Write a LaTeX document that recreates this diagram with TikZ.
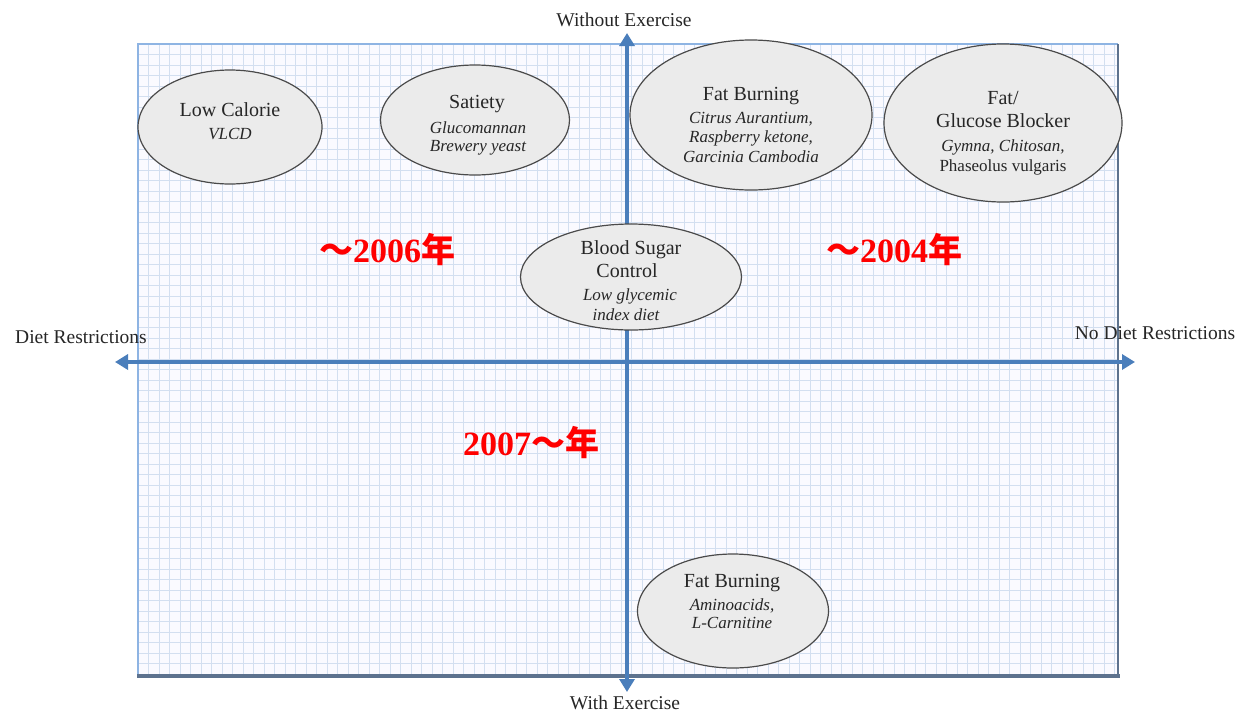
\documentclass[tikz,border=0pt]{standalone}
\usepackage{fontspec}
\setmainfont{Liberation Serif}
\newfontfamily\cjk{Noto Sans CJK SC}
\usetikzlibrary{shapes.geometric,arrows.meta}
\definecolor{gridblue}{HTML}{D3DFF0}
\definecolor{axisblue}{HTML}{4A7EBB}
\definecolor{frametop}{HTML}{8EB4E3}
\definecolor{framedark}{HTML}{5D728E}
\definecolor{ellfill}{HTML}{EBEBEB}
\definecolor{ellline}{HTML}{4A4A4A}
\tikzset{
  bubble/.style={ellipse, draw=ellline, line width=1.2pt, fill=ellfill, inner sep=0pt},
  maintxt/.style={anchor=base, font=\fontsize{20}{22}\selectfont, text=black!85, inner sep=0pt},
  subtxt/.style={anchor=base, font=\fontsize{17}{19}\selectfont\itshape, text=black!85, inner sep=0pt},
  subup/.style={anchor=base, font=\fontsize{17}{19}\selectfont, text=black!85, inner sep=0pt},
  axlabel/.style={anchor=base, font=\fontsize{19.5}{21}\selectfont, text=black!85, inner sep=0pt},
  yearlbl/.style={anchor=base, font=\fontsize{34}{36}\selectfont\bfseries, text=red, inner sep=0pt},
  axisarrow/.style={draw=axisblue, line width=4.5pt, -{Triangle[length=13pt,width=15pt]}}
}
\begin{document}
\begin{tikzpicture}[x=1pt,y=-1pt]
\useasboundingbox (0,0) rectangle (1249,713);
\fill[white] (0,0) rectangle (1249,713);
% grid
\fill[blue!2] (138,44) rectangle (1118,676);
\begin{scope}
\clip (138,44) rectangle (1118,676);
\foreach \i in {0,...,94} {
  \draw[gridblue, line width=1pt] ({138+10.5*\i},44) -- ({138+10.5*\i},676);
}
\foreach \j in {0,...,61} {
  \draw[gridblue, line width=1pt] (138,{44+10.5*\j}) -- (1118,{44+10.5*\j});
}
\end{scope}
\draw[frametop, line width=2pt] (138,676) -- (138,44) -- (1118,44);
\draw[framedark, line width=2pt] (1118,44) -- (1118,676);
\draw[framedark, line width=3.5pt] (137,676) -- (1119.5,676);
% axes
\coordinate (ctr) at (627,362);
\coordinate (atop) at (627,33);
\coordinate (abot) at (627,692);
\coordinate (aleft) at (115,362);
\coordinate (aright) at (1135,362);
\draw[axisarrow] (ctr) -- (atop);
\draw[axisarrow] (ctr) -- (abot);
\draw[axisarrow] (ctr) -- (aleft);
\draw[axisarrow] (ctr) -- (aright);
% axis labels
\node[axlabel] (lwo) at (624,26) {Without Exercise};
\node[axlabel] (lw) at (625,709) {With Exercise};
\node[axlabel] (ldr) at (81,343) {Diet Restrictions};
\node[axlabel] (lndr) at (1155,339) {No Diet Restrictions};
% ellipses
\node[bubble, minimum width=184pt, minimum height=114pt] (lowcal) at (230,127) {};
\node[bubble, minimum width=189pt, minimum height=110pt] (satiety) at (475,120) {};
\node[bubble, minimum width=242pt, minimum height=150pt] (fatburn) at (751,115) {};
\node[bubble, minimum width=238pt, minimum height=158pt] (blocker) at (1003,123) {};
\node[bubble, minimum width=221pt, minimum height=106pt] (blood) at (631,277) {};
\node[bubble, minimum width=191pt, minimum height=114pt] (fatburn2) at (733,611) {};
% texts
\node[maintxt] (t1a) at (230,116) {Low Calorie};
\node[subtxt] (t1b) at (230,139) {VLCD};
\node[maintxt] (t2a) at (477,108) {Satiety};
\node[subtxt] (t2b) at (478,133) {Glucomannan};
\node[subtxt] (t2c) at (478,151) {Brewery yeast};
\node[maintxt] (t3a) at (751,100) {Fat Burning};
\node[subtxt] (t3b) at (751,123) {Citrus Aurantium,};
\node[subtxt] (t3c) at (751,142) {Raspberry ketone,};
\node[subtxt] (t3d) at (751,162) {Garcinia Cambodia};
\node[maintxt] (t4a) at (1003,104) {Fat/};
\node[maintxt] (t4b) at (1003,127) {Glucose Blocker};
\node[subtxt] (t4c) at (1003,151) {Gymna, Chitosan,};
\node[subup] (t4d) at (1003,171) {Phaseolus vulgaris};
\node[maintxt] (t5a) at (631,254) {Blood Sugar};
\node[maintxt] (t5b) at (627,277) {Control};
\node[subtxt] (t5c) at (630,300) {Low glycemic};
\node[subtxt] (t5d) at (626,320) {index diet};
\node[maintxt] (t6a) at (732,587) {Fat Burning};
\node[subtxt] (t6b) at (732,610) {Aminoacids,};
\node[subtxt] (t6c) at (732,628) {L-Carnitine};
% years
\node[yearlbl] (y1) at (387,262) {{\cjk ～}2006{\cjk 年}};
\node[yearlbl] (y2) at (894,262) {{\cjk ～}2004{\cjk 年}};
\node[yearlbl] (y3) at (531,455) {2007{\cjk ～年}};
\end{tikzpicture}
\end{document}
